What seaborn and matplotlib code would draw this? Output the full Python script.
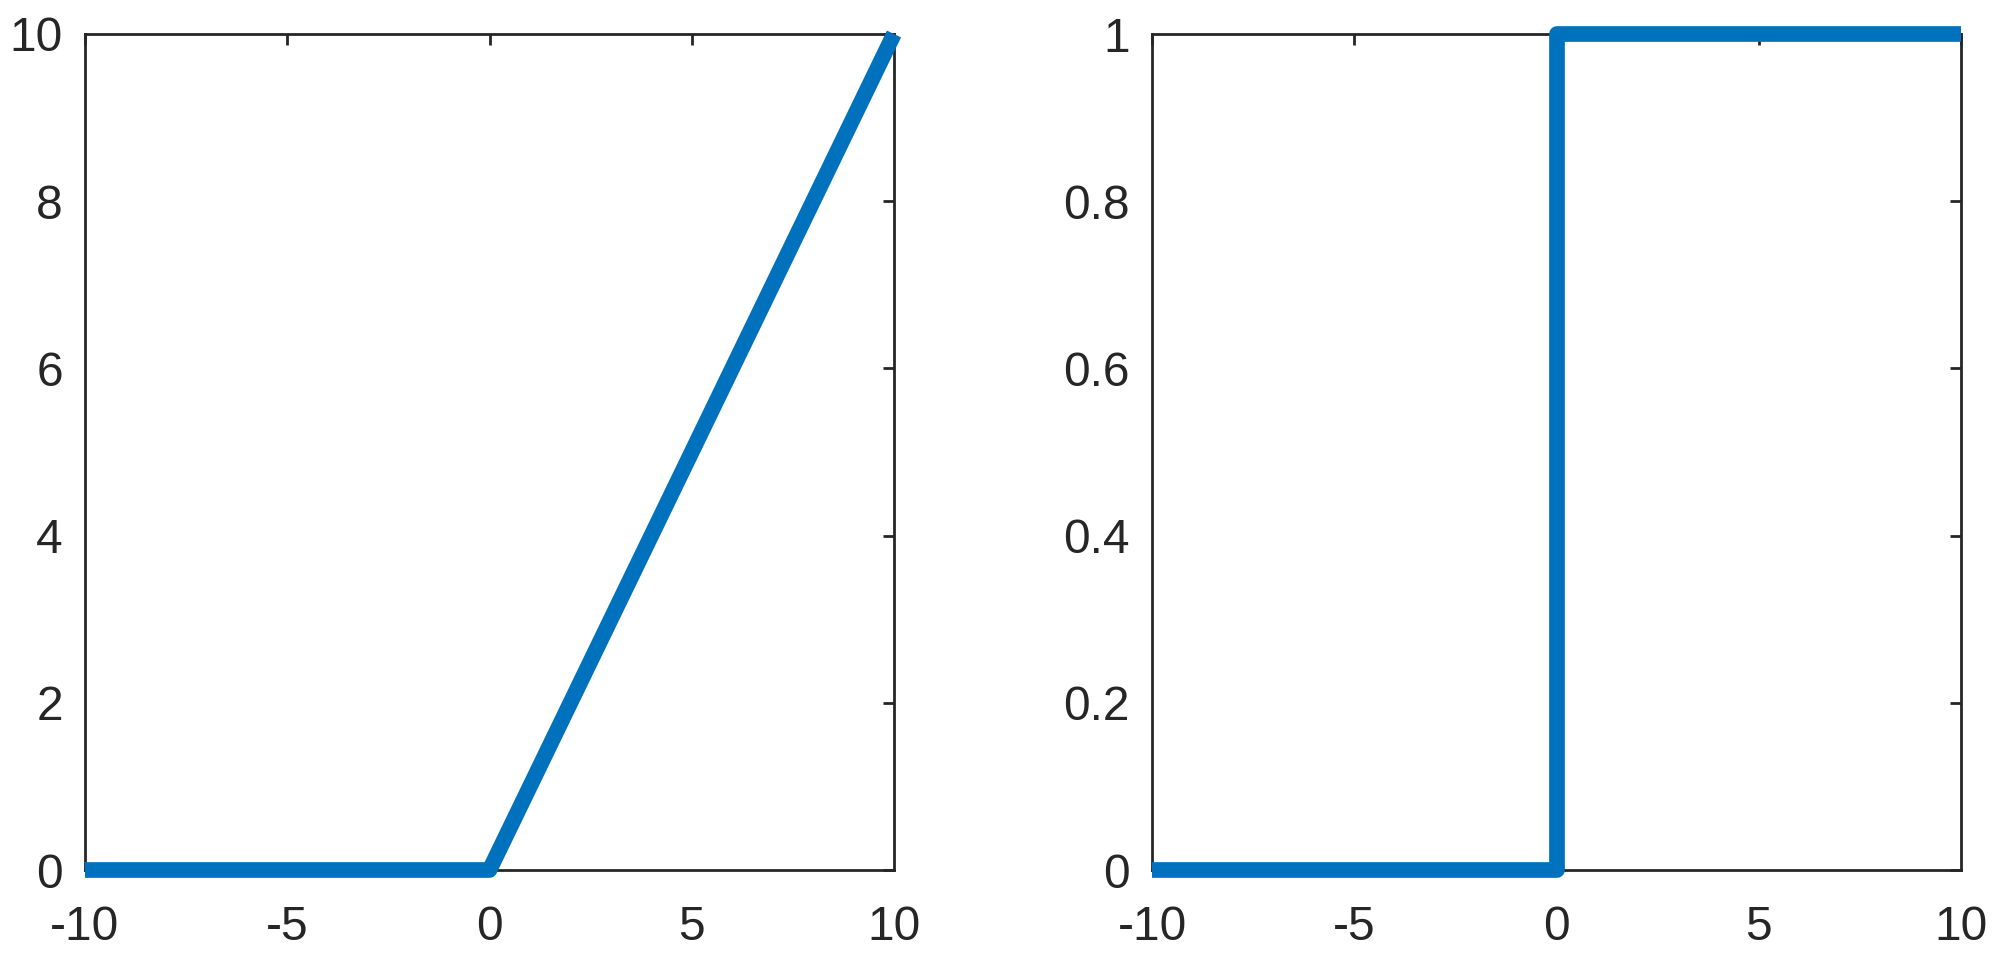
import matplotlib
matplotlib.use("Agg")
import matplotlib.pyplot as plt
import seaborn as sns
import pandas as pd

# Data
relu_x = [-10, 0, 10]
relu_y = [0, 0, 10]
step_x = [-10, 0, 0, 10]
step_y = [0, 0, 1, 1]

left_yticks = [0, 2, 4, 6, 8, 10]
right_yticks = [0, 0.2, 0.4, 0.6, 0.8, 1]
right_yticklabels = ["0", "0.2", "0.4", "0.6", "0.8", "1"]
xticks = [-10, -5, 0, 5, 10]

sns.set_style("white")
plt.rcParams['font.family'] = ['Liberation Sans', 'DejaVu Sans']

BLUE = "#0072BD"
DARK = "#262626"

W, H = 2000, 971
fig = plt.figure(figsize=(W / 100, H / 100), dpi=100)
top, bottom = 34, 870
ax1 = fig.add_axes([85 / W, (H - bottom) / H, (894 - 85) / W, (bottom - top) / H])
ax2 = fig.add_axes([1152 / W, (H - bottom) / H, (1961 - 1152) / W, (bottom - top) / H])

df1 = pd.DataFrame({"x": relu_x, "y": relu_y})
df2 = pd.DataFrame({"x": step_x, "y": step_y})

for ax, df, yt, ytl, ylim in [
    (ax1, df1, left_yticks, [str(v) for v in left_yticks], (0, 10)),
    (ax2, df2, right_yticks, right_yticklabels, (0, 1)),
]:
    sns.lineplot(data=df, x="x", y="y", ax=ax, color=BLUE, linewidth=11.3,
                 sort=False, estimator=None, zorder=5)
    for ln in ax.lines:
        ln.set_clip_on(False)
        ln.set_solid_joinstyle("round")
        ln.set_solid_capstyle("butt")
    ax.set_xlim(-10, 10)
    ax.set_ylim(*ylim)
    ax.set_xticks(xticks)
    ax.set_xticklabels([str(v) for v in xticks])
    ax.set_yticks(yt)
    ax.set_yticklabels(ytl)
    ax.set_xlabel("")
    ax.set_ylabel("")
    for s in ax.spines.values():
        s.set_visible(True)
        s.set_color(DARK)
        s.set_linewidth(2.0)
    ax.tick_params(direction="in", length=8, width=2.0, color=DARK,
                   labelcolor=DARK, labelsize=34.5, top=True, right=True)
    ax.tick_params(axis="y", pad=16)
    ax.tick_params(axis="x", pad=25)

fig.savefig("out.png", dpi=100, facecolor="white")
